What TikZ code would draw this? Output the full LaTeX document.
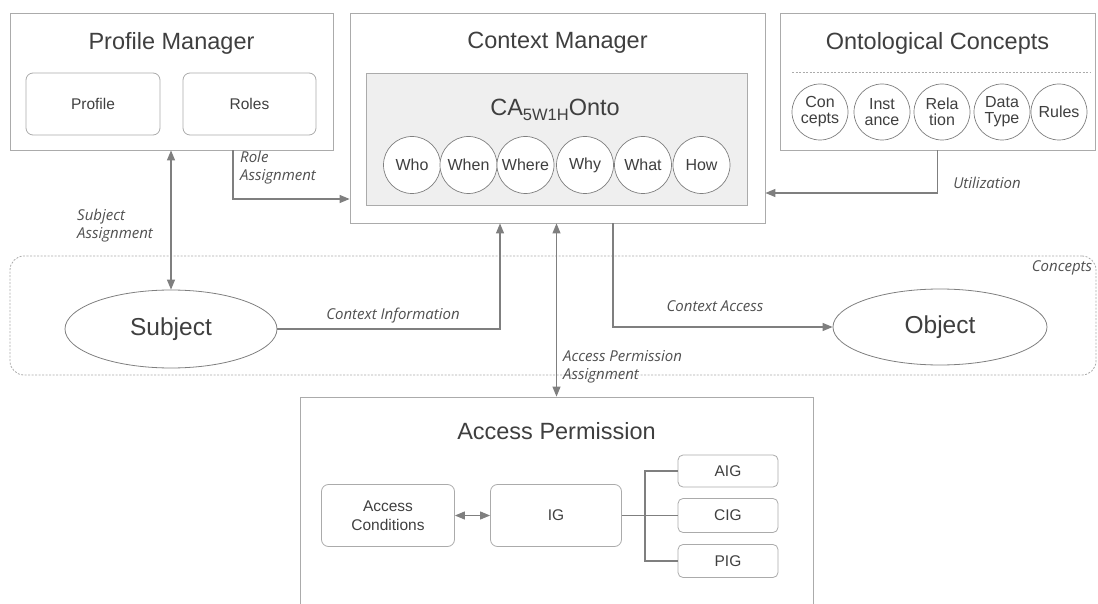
\documentclass[tikz,border=0pt]{standalone}
\usepackage{fontspec}
\setmainfont{Liberation Sans}
\newfontfamily\labelfont{Open Sans}
\usetikzlibrary{arrows.meta,shapes.geometric,calc}

\definecolor{linegray}{HTML}{ABABAB}
\definecolor{arrowgray}{HTML}{7F7F7F}
\definecolor{textgray}{HTML}{3F3F3F}
\definecolor{labelgray}{HTML}{505050}
\definecolor{panelgray}{HTML}{EFEFEF}

\newcommand{\fs}[1]{\fontsize{#1}{#1}\selectfont}

\tikzset{
  box/.style={draw=linegray, line width=0.8pt, inner sep=0pt},
  rbox/.style={box, rounded corners=7pt, font=\fs{15.5}, text=textgray, align=center},
  title/.style={font=\fs{23.5}, text=textgray, inner sep=0pt},
  wcircle/.style={draw=arrowgray, line width=0.7pt, fill=white, circle, minimum size=57pt,
    inner sep=0pt, font=\fs{16}, text=textgray, align=center},
  oval/.style={draw=arrowgray, line width=0.8pt, ellipse, inner sep=0pt, font=\fs{24.5}, text=textgray},
  link/.style={draw=arrowgray, line width=1.1pt},
  flow/.style={link, -{Triangle[length=10pt,width=8pt]}},
  both/.style={link, {Triangle[length=10pt,width=8pt]}-{Triangle[length=10pt,width=8pt]}},
  lbl/.style={font=\labelfont\fs{15}\itshape, text=labelgray, inner sep=0pt, align=left}
}

\begin{document}
\begin{tikzpicture}[x=1pt, y=-1pt]
\useasboundingbox (0,0) rectangle (1098,604);
\clip (0,0) rectangle (1098,604);

% Profile Manager
\node[box, minimum width=323pt, minimum height=137pt] (pm) at (171.5,81.5) {};
\node[title] (pmT) at (171.5,43) {Profile Manager};
\node[rbox, minimum width=134pt, minimum height=62pt] (prof) at (93,104) {Profile};
\node[rbox, minimum width=133pt, minimum height=62pt] (roles) at (249.5,104) {Roles};

% Context Manager with the 5W1H ontology panel
\node[box, minimum width=415pt, minimum height=210pt] (cm) at (557.5,118) {};
\node[title] (cmT) at (557.5,43) {Context Manager};
\node[box, fill=panelgray, minimum width=381pt, minimum height=132pt] (onto) at (556.5,139) {};
\node[title] (ontoT) at (555,110) {CA\raisebox{-4.5pt}{\fs{16.5}5W1H}Onto};
\foreach \w/\x in {Who/412, When/468.5, Where/525.5, Why/585, What/643, How/701.5}
  \node[wcircle] (c\w) at (\x,165) {\w};

% Ontological Concepts
\node[box, minimum width=315pt, minimum height=137pt] (oc) at (937.5,81.5) {};
\node[title] (ocT) at (937.5,43) {Ontological Concepts};
\draw[linegray, line width=0.8pt, dash pattern=on 2pt off 1.5pt] (792,72) -- (1091,72);
\foreach \t/\x/\n in {Con\\cepts/820/cc, Inst\\ance/882/ci, Rela\\tion/942/cr, Data\\Type/1002/cd, Rules/1059/cu}
  \node[wcircle, minimum size=56pt] (\n) at (\x,112) {\t};

% Concepts region
\node[draw=linegray, line width=0.8pt, dash pattern=on 2pt off 1.5pt, rounded corners=14pt,
      minimum width=1086pt, minimum height=119pt, inner sep=0pt] (concepts) at (553,315.5) {};
\node[lbl] (conT) at (1062,268) {Concepts};
\node[oval, minimum width=212pt, minimum height=78pt] (subj) at (171,329) {Subject};
\node[oval, minimum width=214pt, minimum height=76pt] (obj) at (940,327) {Object};

% Access Permission
\node[box, minimum width=513pt, minimum height=240pt] (ap) at (556.5,517) {};
\node[title] (apT) at (556.5,431) {Access Permission};
\node[rbox, minimum width=133pt, minimum height=62pt] (ac) at (388,515.5) {Access\\[4pt]Conditions};
\node[rbox, minimum width=131pt, minimum height=62pt] (ig) at (556,515.5) {IG};
\node[rbox, minimum width=100pt, minimum height=32pt, rounded corners=5pt] (aig) at (728,471) {AIG};
\node[rbox, minimum width=100pt, minimum height=34pt, rounded corners=5pt] (cig) at (728,515.5) {CIG};
\node[rbox, minimum width=100pt, minimum height=33pt, rounded corners=5pt] (pig) at (728,561) {PIG};

% bend levels
\coordinate (roleY) at (0,199);
\coordinate (utilY) at (0,193);
\coordinate (jn) at (645,515.5);

% connectors
\draw[both] (subj.north |- pm.south) -- (subj.north);
\draw[flow] ($(pm.south)+(61.5,0)$) |- (cm.west |- roleY);
\draw[flow] (oc.south) |- (cm.east |- utilY);
\draw[flow] (subj.east) -| ($(cm.south)+(-57.5,0)$);
\draw[both] (ap.north |- cm.south) -- (ap.north);
\draw[flow] ($(cm.south)+(55.5,0)$) |- (obj.west);
\draw[both] (ac.east) -- (ig.west);
\draw[link] (ig.east) -- (cig.west);
\draw[link] (aig.west) -| (jn) |- (pig.west);

% connector labels
\node[lbl, anchor=west] (lRole) at (240,168) {Role\\[3pt]Assignment};
\node[lbl, anchor=west] (lSubj) at (77,226) {Subject\\[3pt]Assignment};
\node[lbl] (lCtxI) at (393,316) {Context Information};
\node[lbl, anchor=west] (lAPA) at (563,367) {Access Permission\\[3pt]Assignment};
\node[lbl] (lCtxA) at (715,306) {Context Access};
\node[lbl] (lUtil) at (987,183) {Utilization};
\end{tikzpicture}
\end{document}
